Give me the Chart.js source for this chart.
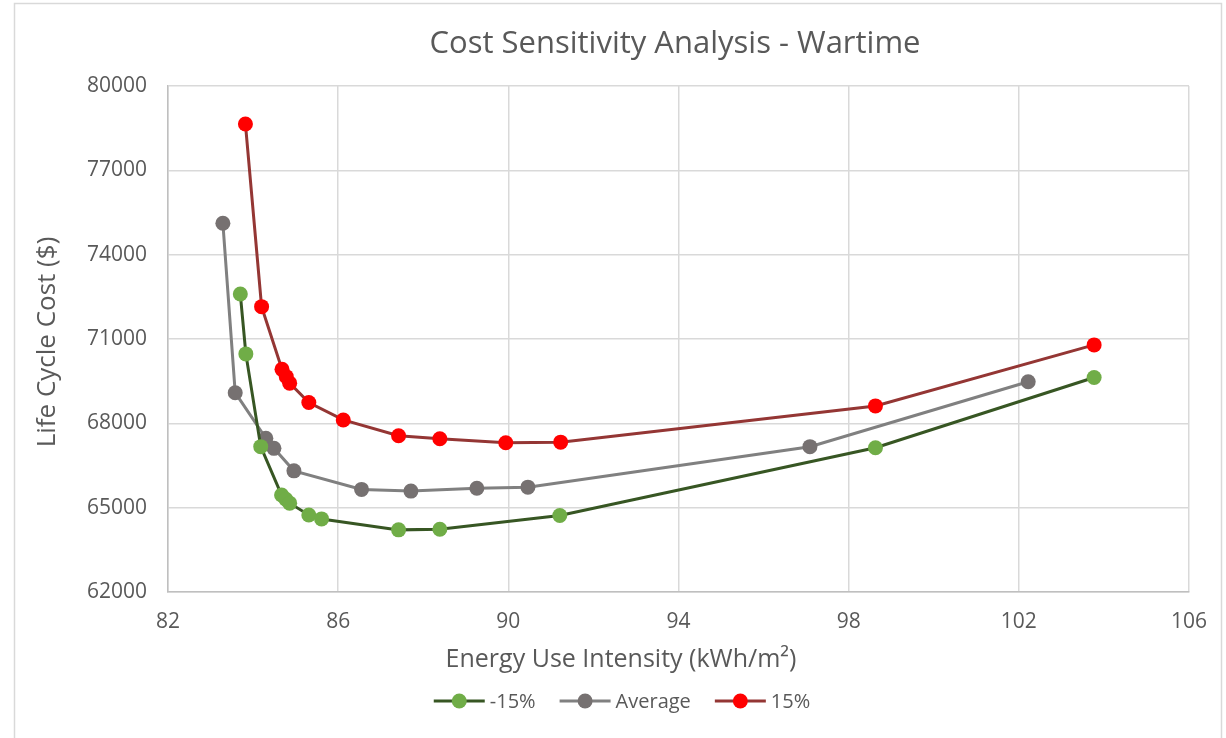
<!DOCTYPE html>
<html>
<head>
<meta charset="utf-8">
<title>Cost Sensitivity Analysis - Wartime</title>
<script src="https://cdn.jsdelivr.net/npm/chart.js@4/dist/chart.umd.min.js"></script>
<style>
  html, body { margin: 0; padding: 0; background: #ffffff; }
  #wrap { width: 1226px; height: 738px; }
</style>
</head>
<body>
<div id="wrap"><canvas id="chart" width="1226" height="738"></canvas></div>
<script>
// Energy use intensity (kWh/m²) and life cycle cost ($) for each scenario
const lowEUI  = [83.70, 83.83, 84.18, 84.67, 84.77, 84.86, 85.31, 85.61, 87.42, 88.39, 91.21, 98.63, 103.77];
const lowLCC  = [72600, 70470, 67170, 65450, 65300, 65160, 64740, 64600, 64210, 64230, 64720, 67130, 69630];

const avgEUI  = [83.29, 83.58, 84.30, 84.49, 84.96, 86.55, 87.71, 89.26, 90.46, 97.09, 102.22];
const avgLCC  = [75120, 69090, 67470, 67110, 66310, 65650, 65590, 65690, 65730, 67170, 69480];

const highEUI = [83.82, 84.20, 84.68, 84.78, 84.86, 85.31, 86.12, 87.42, 88.39, 89.94, 91.23, 98.63, 103.77];
const highLCC = [78650, 72150, 69920, 69660, 69430, 68740, 68120, 67560, 67450, 67310, 67330, 68620, 70790];

const seriesNames = ['-15%', 'Average', '15%'];
const xTicks = [82, 86, 90, 94, 98, 102, 106];
const yTicks = [62000, 65000, 68000, 71000, 74000, 77000, 80000];

const chartTitle = 'Cost Sensitivity Analysis - Wartime';
const xTitle = 'Energy Use Intensity (kWh/m²)';
const yTitle = 'Life Cycle Cost ($)';

const FONT = '"Open Sans", "DejaVu Sans", sans-serif';
const TEXT = '#595959';

const pairs = (xs, ys) => xs.map((x, i) => ({ x: x, y: ys[i] }));

function series(label, xs, ys, line, dot) {
  return {
    label: label,
    data: pairs(xs, ys),
    showLine: true,
    borderColor: line,
    borderWidth: 3,
    backgroundColor: dot,
    pointBackgroundColor: dot,
    pointBorderColor: dot,
    pointBorderWidth: 0,
    pointRadius: 7.5,
    pointHoverRadius: 7.5,
    tension: 0
  };
}

const datasets = [
  series(seriesNames[0], lowEUI, lowLCC, '#375623', '#70AD47'),
  series(seriesNames[1], avgEUI, avgLCC, '#808080', '#767171'),
  series(seriesNames[2], highEUI, highLCC, '#943634', '#FF0000')
];

// White background with a thin frame around the chart
const frame = {
  id: 'frame',
  beforeDraw(chart) {
    const ctx = chart.ctx;
    ctx.save();
    ctx.fillStyle = '#ffffff';
    ctx.fillRect(0, 0, chart.width, chart.height);
    ctx.strokeStyle = '#d9d9d9';
    ctx.lineWidth = 1.5;
    ctx.strokeRect(14.5, 3.5, 1207, 760);
    ctx.restore();
  }
};

// Chart title, axis titles and the legend row underneath
const annotations = {
  id: 'annotations',
  afterDraw(chart) {
    const ctx = chart.ctx;
    const area = chart.chartArea;
    ctx.save();
    ctx.fillStyle = TEXT;
    ctx.textBaseline = 'middle';
    ctx.textAlign = 'center';
    ctx.font = '31px ' + FONT;
    ctx.fillText(chartTitle, 675, 44);

    ctx.font = '25px ' + FONT;
    ctx.fillText(xTitle, 621, 660);

    ctx.font = '26px ' + FONT;
    ctx.translate(48, (area.top + area.bottom) / 2 + 3);
    ctx.rotate(-Math.PI / 2);
    ctx.fillText(yTitle, 0, 0);
    ctx.restore();

    // legend
    ctx.save();
    ctx.font = '20px ' + FONT;
    ctx.textBaseline = 'middle';
    ctx.textAlign = 'left';
    const lineLen = 51, gapText = 5, gapItem = 24, cy = 701;
    const widths = chart.data.datasets.map(d => lineLen + gapText + ctx.measureText(d.label).width);
    const total = widths.reduce((a, b) => a + b, 0) + gapItem * (widths.length - 1);
    let x = 622 - total / 2;
    chart.data.datasets.forEach((d, i) => {
      ctx.strokeStyle = d.borderColor;
      ctx.lineWidth = 3;
      ctx.beginPath();
      ctx.moveTo(x, cy);
      ctx.lineTo(x + lineLen, cy);
      ctx.stroke();
      ctx.fillStyle = d.pointBackgroundColor;
      ctx.beginPath();
      ctx.arc(x + lineLen / 2, cy, 7.5, 0, Math.PI * 2);
      ctx.fill();
      ctx.fillStyle = TEXT;
      ctx.fillText(d.label, x + lineLen + gapText, cy + 1);
      x += widths[i] + gapItem;
    });
    ctx.restore();
  }
};

new Chart(document.getElementById('chart'), {
  type: 'scatter',
  data: { datasets: datasets },
  plugins: [frame, annotations],
  options: {
    responsive: false,
    animation: false,
    events: [],
    layout: { padding: { left: 14, right: 37, top: 86, bottom: 0 } },
    plugins: {
      legend: { display: false },
      tooltip: { enabled: false },
      title: { display: false }
    },
    scales: {
      x: {
        type: 'linear',
        min: xTicks[0],
        max: xTicks[xTicks.length - 1],
        afterBuildTicks(scale) { scale.ticks = xTicks.map(v => ({ value: v })); },
        afterFit(scale) { scale.height = 146; },
        grid: { color: '#d9d9d9', lineWidth: 1.5, drawTicks: false },
        border: { color: '#bfbfbf', width: 1.5 },
        ticks: { color: TEXT, padding: 17, font: { family: FONT, size: 21 } }
      },
      y: {
        type: 'linear',
        min: yTicks[0],
        max: yTicks[yTicks.length - 1],
        afterBuildTicks(scale) { scale.ticks = yTicks.map(v => ({ value: v })); },
        afterFit(scale) { scale.width = 154; },
        grid: { color: '#d9d9d9', lineWidth: 1.5, drawTicks: false },
        border: { color: '#bfbfbf', width: 1.5 },
        ticks: { color: TEXT, padding: 21, font: { family: FONT, size: 21 },
                 callback: v => String(v) }
      }
    }
  }
});
</script>
</body>
</html>
